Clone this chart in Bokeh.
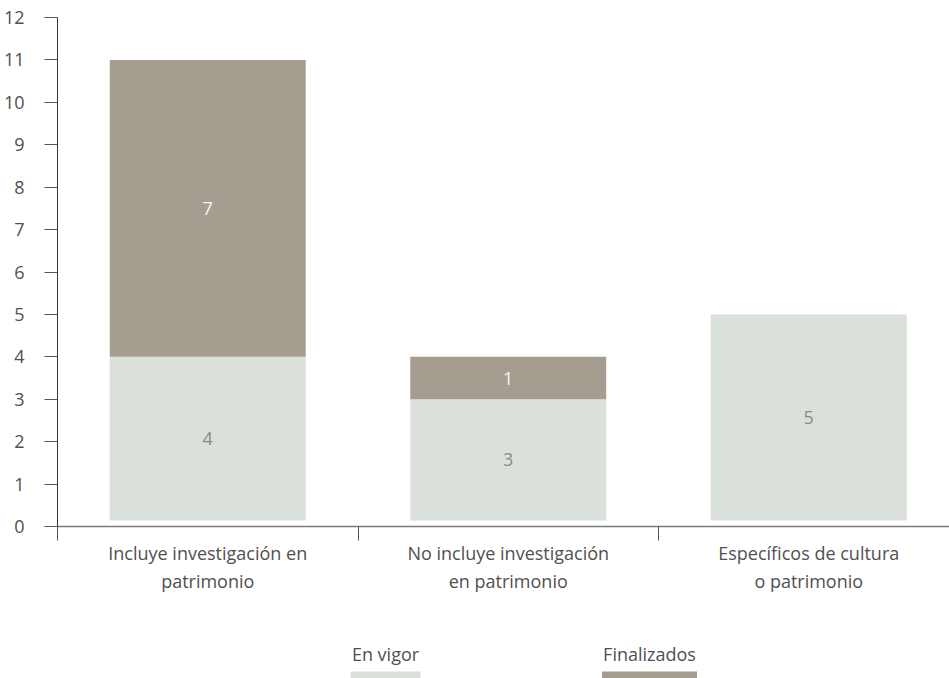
from bokeh.plotting import figure
from bokeh.models import Range1d, FixedTicker, ColumnDataSource
from bokeh.layouts import column
from bokeh.embed import file_html
from bokeh.resources import INLINE
from bokeh.core.properties import value

# ---- data ----
categories = [
    "Incluye investigación en\npatrimonio",
    "No incluye investigación\nen patrimonio",
    "Específicos de cultura\no patrimonio",
]
series = ["En vigor", "Finalizados"]
en_vigor = [4, 3, 5]
finalizados = [7, 1, 0]
y_ticks = list(range(0, 13))

# ---- style ----
colors = ["#dae1db", "#a59d8f"]
label_colors = ["#8a8a8a", "#f4f4f2"]
TEXT_COLOR = "#505050"
FONT = "Open Sans"
FS = "18px"
BAR_WIDTH = 0.652
BAR_GAP = 0.14
CAT_PX = 300.5
FRAME_W = 892
FRAME_H = 509
TOP = 17
LEFT = 57
BOTTOM = 90
LEG_H = 678 - TOP - FRAME_H - BOTTOM

pos = [i + 0.5 for i in range(len(categories))]
top1 = list(en_vigor)
top2 = [a + b for a, b in zip(en_vigor, finalizados)]

p = figure(
    frame_width=FRAME_W, frame_height=FRAME_H,
    x_range=Range1d(0, FRAME_W / CAT_PX), y_range=Range1d(0, 12),
    output_backend="svg", toolbar_location=None,
    min_border_left=LEFT, min_border_right=0, min_border_top=TOP, min_border_bottom=BOTTOM,
)
p.outline_line_color = None
p.grid.grid_line_color = None
p.background_fill_color = "white"

src = ColumnDataSource(dict(x=pos, b1=[BAR_GAP] * len(pos), t1=top1, t2=top2))
p.vbar(x="x", bottom="b1", top="t1", width=BAR_WIDTH, source=src,
       fill_color=colors[0], line_color=None)
p.vbar(x="x", bottom="t1", top="t2", width=BAR_WIDTH, source=src,
       fill_color=colors[1], line_color=None)

# value labels
lx, ly, lt, lc = [], [], [], []
for i, x in enumerate(pos):
    if en_vigor[i]:
        lx.append(x); ly.append((BAR_GAP + top1[i]) / 2); lt.append(str(en_vigor[i])); lc.append(label_colors[0])
    if finalizados[i]:
        lx.append(x); ly.append((top1[i] + top2[i]) / 2); lt.append(str(finalizados[i])); lc.append(label_colors[1])
p.text(x=lx, y=ly, text=lt, text_color=lc, text_align="center", text_baseline="middle",
       text_font=value(FONT), text_font_size=FS)

# x axis
xa = p.xaxis[0]
xa.ticker = FixedTicker(ticks=pos, minor_ticks=list(range(len(categories) + 1)))
xa.major_label_overrides = {x: c for x, c in zip(pos, categories)}
xa.major_tick_line_color = None
xa.major_tick_out = 0
xa.major_tick_in = 0
xa.minor_tick_out = 14
xa.minor_tick_in = 0
xa.minor_tick_line_color = "#555555"
xa.axis_line_color = "#7a7a7a"
xa.axis_line_width = 1.3
xa.major_label_standoff = 0
xa.major_label_text_font = FONT
xa.major_label_text_font_size = FS
xa.major_label_text_color = TEXT_COLOR
xa.major_label_text_line_height = 1.2
xa.major_label_text_align = "center"

# y axis
ya = p.yaxis[0]
ya.ticker = FixedTicker(ticks=y_ticks)
ya.minor_tick_line_color = None
ya.major_tick_out = 13
ya.major_tick_in = 0
ya.major_tick_line_color = "#555555"
ya.axis_line_color = "#333333"
ya.major_label_standoff = 20
ya.major_label_text_font = FONT
ya.major_label_text_font_size = FS
ya.major_label_text_color = TEXT_COLOR

# ---- legend (label above swatch), same frame geometry as the chart ----
LEG_UNIT = 264.0
leg_start = 0.5 - (385 - LEFT) / LEG_UNIT
lf = figure(
    frame_width=FRAME_W, frame_height=LEG_H,
    x_range=Range1d(leg_start, leg_start + FRAME_W / LEG_UNIT), y_range=Range1d(0, LEG_H),
    output_backend="svg", toolbar_location=None,
    x_axis_location=None, y_axis_location=None,
    min_border_left=LEFT, min_border_right=0, min_border_top=0, min_border_bottom=0,
)
lf.outline_line_color = None
lf.grid.grid_line_color = None
leg_x = [i + 0.5 for i in range(len(series))]
swatch_w = [0.265, 0.36]
lf.vbar(x=leg_x, bottom=0, top=7, width=swatch_w, fill_color=colors, line_color=None)
lf.text(x=leg_x, y=LEG_H - 37, text=series, text_align="center", text_baseline="middle",
        text_font=value(FONT), text_font_size=FS, text_color=TEXT_COLOR)

layout = column(p, lf, spacing=0)
open("out.html", "w").write(file_html(layout, INLINE))
